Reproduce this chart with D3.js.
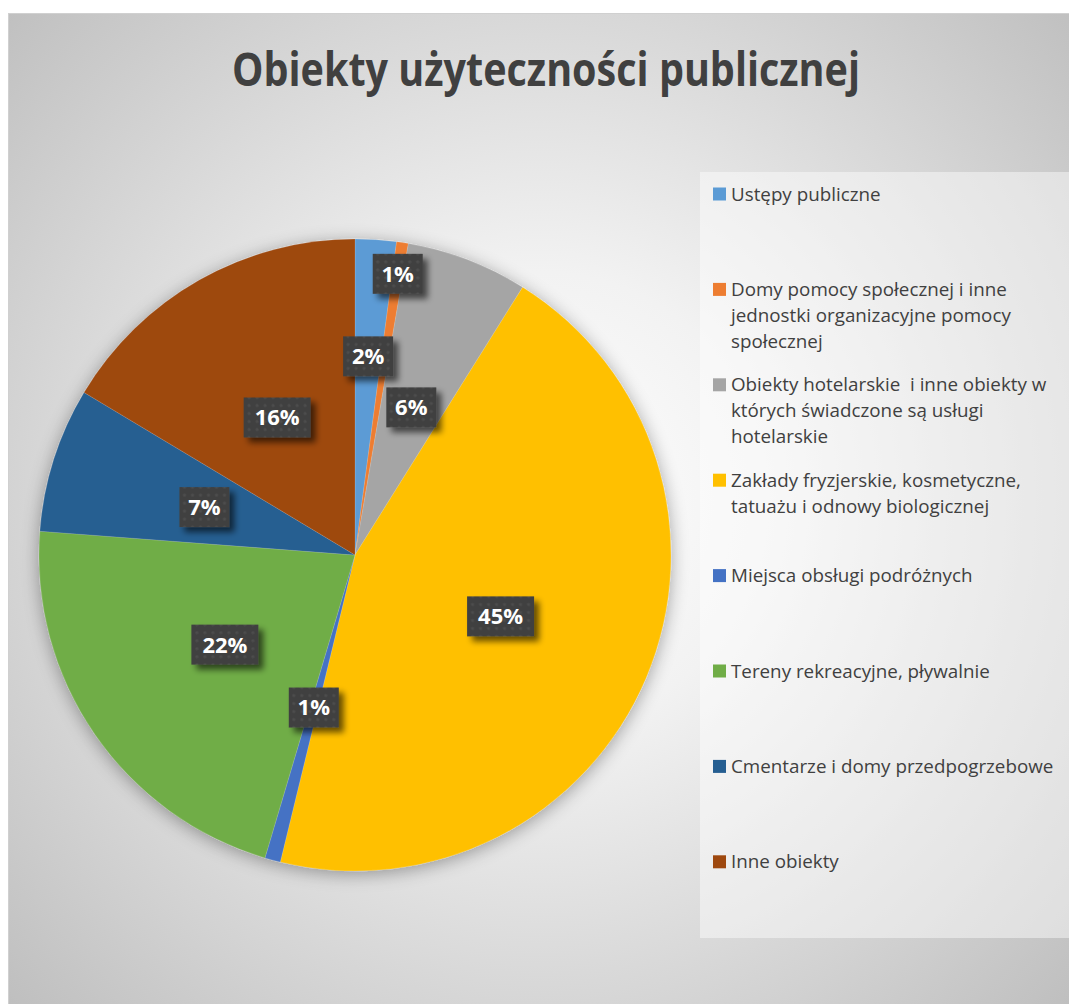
<!DOCTYPE html>
<meta charset="utf-8">
<head>
  <script src="https://cdn.jsdelivr.net/npm/d3@7"></script>
</head>
<style>
  body { margin: 0; background: #fff; }
  text { font-family: "Open Sans", sans-serif; white-space: pre; }
</style>
<body></body>
<script>
// dane
var categories = [
  "Ustępy publiczne",
  "Domy pomocy społecznej i inne\njednostki organizacyjne pomocy\nspołecznej",
  "Obiekty hotelarskie  i inne obiekty w\nktórych świadczone są usługi\nhotelarskie",
  "Zakłady fryzjerskie, kosmetyczne,\ntatuażu i odnowy biologicznej",
  "Miejsca obsługi podróżnych",
  "Tereny rekreacyjne, pływalnie",
  "Cmentarze i domy przedpogrzebowe",
  "Inne obiekty"
];
var values = [2.1, 0.6, 6.2, 44.9, 0.8, 21.6, 7.4, 16.4];
var labels = ["2%", "1%", "6%", "45%", "1%", "22%", "7%", "16%"];
var colors = ["#5B9BD5", "#ED7D31", "#A5A5A5", "#FFC000", "#4472C4", "#70AD47", "#255E91", "#9E480E"];
var title = "Obiekty użyteczności publicznej";

var width = 1069, height = 1004;
var cx = 355, cy = 555, R = 316;
// label distance from centre (fraction of radius); small slices pushed out like Excel
var labelPos = [0.63, 0.9, 0.5, 0.5, 0.5, 0.5, 0.5, 0.5];

var svg = d3.select("body").append("svg")
    .attr("width", width)
    .attr("height", height);

var defs = svg.append("defs");

var bg = defs.append("radialGradient").attr("id", "bg")
    .attr("gradientUnits", "userSpaceOnUse")
    .attr("cx", 540).attr("cy", 500).attr("r", 760);
bg.append("stop").attr("offset", "0").attr("stop-color", "#ffffff");
bg.append("stop").attr("offset", "0.3").attr("stop-color", "#f2f2f2");
bg.append("stop").attr("offset", "1").attr("stop-color", "#bcbcbc");

var pat = defs.append("pattern").attr("id", "dots")
    .attr("patternUnits", "userSpaceOnUse")
    .attr("width", 8).attr("height", 8);
pat.append("rect").attr("width", 8).attr("height", 8).attr("fill", "#404040");
pat.append("circle").attr("cx", 4).attr("cy", 4).attr("r", 1.6).attr("fill", "#4d4d4d");

var pieShadow = defs.append("filter").attr("id", "pieShadow")
    .attr("x", "-20%").attr("y", "-20%").attr("width", "140%").attr("height", "140%");
pieShadow.append("feGaussianBlur").attr("in", "SourceAlpha").attr("stdDeviation", 9);
pieShadow.append("feOffset").attr("dx", 0).attr("dy", 3).attr("result", "b");
pieShadow.append("feComponentTransfer").append("feFuncA").attr("type", "linear").attr("slope", 0.35);
var m1 = pieShadow.append("feMerge");
m1.append("feMergeNode");
m1.append("feMergeNode").attr("in", "SourceGraphic");

var boxShadow = defs.append("filter").attr("id", "boxShadow")
    .attr("x", "-30%").attr("y", "-30%").attr("width", "170%").attr("height", "170%");
boxShadow.append("feGaussianBlur").attr("in", "SourceAlpha").attr("stdDeviation", 3);
boxShadow.append("feOffset").attr("dx", 5).attr("dy", 5);
boxShadow.append("feComponentTransfer").append("feFuncA").attr("type", "linear").attr("slope", 0.6);
var m2 = boxShadow.append("feMerge");
m2.append("feMergeNode");
m2.append("feMergeNode").attr("in", "SourceGraphic");

// tło wykresu
svg.append("rect")
    .attr("x", 8.5).attr("y", 13.5)
    .attr("width", width).attr("height", height)
    .attr("fill", "url(#bg)")
    .attr("stroke", "#d0d0d0");

svg.append("text")
    .attr("x", 546).attr("y", 86)
    .attr("text-anchor", "middle")
    .attr("font-size", 47)
    .attr("font-weight", "bold")
    .attr("fill", "#404040")
    .attr("textLength", 628)
    .attr("lengthAdjust", "spacingAndGlyphs")
    .text(title);

// legenda - tło
svg.append("rect")
    .attr("x", 700).attr("y", 172)
    .attr("width", 380).attr("height", 766)
    .attr("fill", "#ffffff").attr("fill-opacity", 0.45);

var pie = d3.pie().sort(null).value(function(d) { return d; });
var arcs = pie(values);
var arc = d3.arc().innerRadius(0).outerRadius(R);

var g = svg.append("g").attr("transform", "translate(" + cx + "," + cy + ")");

g.append("g").attr("filter", "url(#pieShadow)")
  .selectAll("path")
  .data(arcs)
  .join("path")
    .attr("d", arc)
    .attr("fill", function(d, i) { return colors[i]; })
    .attr("stroke", "rgba(255,255,255,0.25)")
    .attr("stroke-width", 0.5);

var lab = g.selectAll("g.lab")
  .data(arcs)
  .join("g")
    .attr("class", "lab")
    .attr("transform", function(d, i) {
      var a = (d.startAngle + d.endAngle) / 2;
      var r = R * labelPos[i];
      return "translate(" + (r * Math.sin(a)) + "," + (-r * Math.cos(a)) + ")";
    });

lab.each(function(d, i) {
  var s = d3.select(this);
  var w = labels[i].length > 2 ? 67 : 50;
  s.append("rect")
      .attr("x", -w / 2).attr("y", -20)
      .attr("width", w).attr("height", 40)
      .attr("fill", "url(#dots)")
      .attr("filter", "url(#boxShadow)");
  s.append("text")
      .attr("text-anchor", "middle")
      .attr("dy", "0.36em")
      .attr("font-size", 22)
      .attr("font-weight", "bold")
      .attr("fill", "#ffffff")
      .text(labels[i]);
});

// legenda
var leg = svg.append("g").selectAll("g")
  .data(categories)
  .join("g")
    .attr("transform", function(d, i) { return "translate(713," + (194 + i * 95.4) + ")"; });

leg.append("rect")
    .attr("x", 0).attr("y", -6.5)
    .attr("width", 13).attr("height", 13)
    .attr("fill", function(d, i) { return colors[i]; });

leg.append("text")
    .attr("x", 18)
    .attr("font-size", 18.8)
    .attr("fill", "#404040")
    .each(function(d) {
      var t = d3.select(this);
      d.split("\n").forEach(function(line, k) {
        t.append("tspan")
            .attr("x", 18)
            .attr("y", k * 26)
            .attr("dy", "0.35em")
            .text(line);
      });
    });
</script>
